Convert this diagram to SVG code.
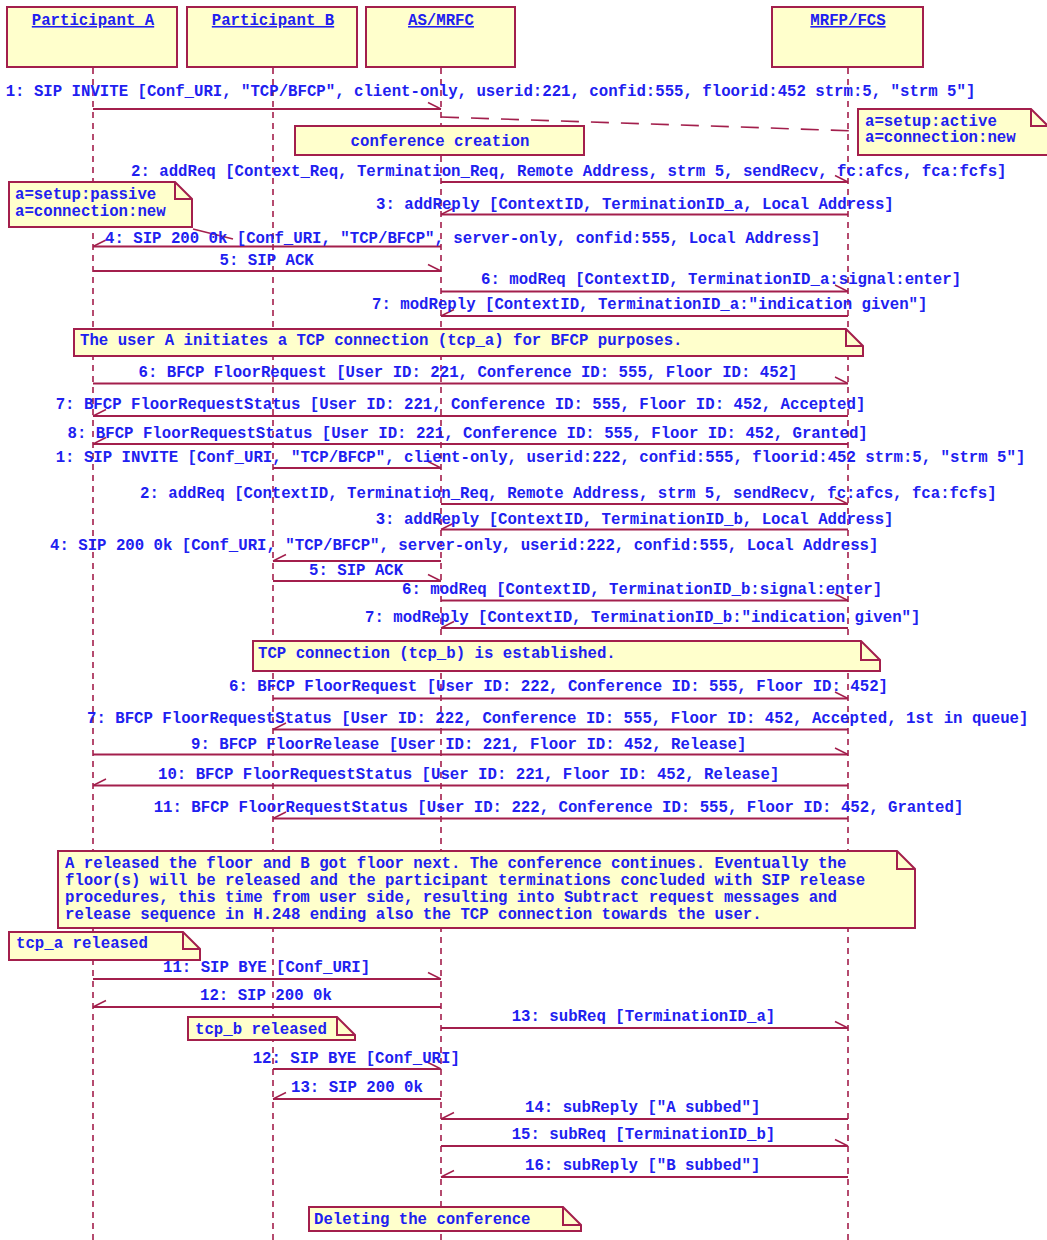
<svg xmlns="http://www.w3.org/2000/svg" width="1047" height="1240" viewBox="0 0 1047 1240">
<defs>
<style>
.ll{stroke:#a31f4c;stroke-width:1.6;stroke-dasharray:6,5;fill:none}
.m{stroke:#a31f4c;stroke-width:2;fill:none}
.bx{fill:#ffffcc;stroke:#a31f4c;stroke-width:2}
.fold{fill:none;stroke:#a31f4c;stroke-width:2}
.nc{stroke:#a31f4c;stroke-width:1.6;fill:none;stroke-dasharray:18,12}
text{font-family:"Liberation Mono","DejaVu Sans Mono",monospace;font-size:15.7px;font-weight:bold;fill:#2020f0}
.ttl{text-decoration:underline;text-anchor:middle}
.ctr{text-anchor:middle}
</style>
<marker id="hR" markerUnits="userSpaceOnUse" orient="0" markerWidth="20" markerHeight="20" refX="16" refY="10" viewBox="0 0 20 20"><path d="M3,3.5 L16,10" stroke="#a31f4c" stroke-width="1.5" fill="none"/></marker>
<marker id="hL" markerUnits="userSpaceOnUse" orient="0" markerWidth="20" markerHeight="20" refX="4" refY="10" viewBox="0 0 20 20"><path d="M17,3.5 L4,10" stroke="#a31f4c" stroke-width="1.5" fill="none"/></marker>
</defs>
<rect width="1047" height="1240" fill="#ffffff"/>

<g id="lifelines">
<line class="ll" x1="93" y1="68" x2="93" y2="1240"/>
<line class="ll" x1="273" y1="68" x2="273" y2="1240"/>
<line class="ll" x1="441" y1="68" x2="441" y2="1240"/>
<line class="ll" x1="848" y1="68" x2="848" y2="1240"/>
</g>

<g id="participant-a"><rect class="bx" x="7" y="7" width="170" height="60"/><text class="ttl" x="93" y="25">Participant A</text></g>
<g id="participant-b"><rect class="bx" x="187" y="7" width="170" height="60"/><text class="ttl" x="273" y="25">Participant B</text></g>
<g id="as-mrfc"><rect class="bx" x="366" y="7" width="149" height="60"/><text class="ttl" x="441" y="25">AS/MRFC</text></g>
<g id="mrfp-fcs"><rect class="bx" x="772" y="7" width="151" height="60"/><text class="ttl" x="848" y="25">MRFP/FCS</text></g>

<g id="note-conference-creation"><rect class="bx" x="295" y="126" width="289" height="29"/><text class="ctr" x="440" y="146">conference creation</text></g>

<g id="note-active"><path class="bx" d="M858,109 H1031 L1048,126 V155 H858 Z"/><path class="fold" d="M1031,109 V126 H1048"/><text x="865" y="126">a=setup:active</text><text x="865" y="142">a=connection:new</text></g>

<g id="note-passive"><path class="bx" d="M9,182 H175 L192,199 V227 H9 Z"/><path class="fold" d="M175,182 V199 H192"/><text x="15" y="198.5">a=setup:passive</text><text x="15" y="216">a=connection:new</text></g>

<g id="note-user-a-tcp"><path class="bx" d="M74,329 H846 L863,346 V356 H74 Z"/><path class="fold" d="M846,329 V346 H863"/><text x="80" y="345">The user A initiates a TCP connection (tcp_a) for BFCP purposes.</text></g>

<g id="note-tcp-b"><path class="bx" d="M253,641 H861 L880,660 V671 H253 Z"/><path class="fold" d="M861,641 V660 H880"/><text x="258" y="658">TCP connection (tcp_b) is established.</text></g>

<g id="note-release"><path class="bx" d="M58,851 H897 L915,869 V928 H58 Z"/><path class="fold" d="M897,851 V869 H915"/>
<text x="65" y="867.5">A released the floor and B got floor next. The conference continues. Eventually the</text>
<text x="65" y="884.5">floor(s) will be released and the participant terminations concluded with SIP release</text>
<text x="65" y="901.5">procedures, this time from user side, resulting into Subtract request messages and</text>
<text x="65" y="919">release sequence in H.248 ending also the TCP connection towards the user.</text></g>

<g id="note-tcp-a-released"><path class="bx" d="M9,932 H183 L200,949 V960 H9 Z"/><path class="fold" d="M183,932 V949 H200"/><text x="16" y="947.5">tcp_a released</text></g>

<g id="note-tcp-b-released"><path class="bx" d="M188,1017 H337 L355,1035 V1040 H188 Z"/><path class="fold" d="M337,1017 V1035 H355"/><text x="195" y="1033.5">tcp_b released</text></g>

<g id="note-deleting"><path class="bx" d="M309,1207 H563 L581,1225 V1231 H309 Z"/><path class="fold" d="M563,1207 V1225 H581"/><text x="314" y="1223.5">Deleting the conference</text></g>

<g id="connectors">
<line class="nc" x1="441" y1="117" x2="858" y2="131"/>
<line class="m" style="stroke-width:1.6" x1="193" y1="229" x2="233" y2="239"/>

<line class="m" x1="93" y1="109" x2="441" y2="109" marker-end="url(#hR)"/>
<line class="m" x1="441" y1="182" x2="848" y2="182" marker-end="url(#hR)"/>
<line class="m" x1="848" y1="214.5" x2="441" y2="214.5" marker-end="url(#hL)"/>
<line class="m" x1="441" y1="246.5" x2="93" y2="246.5" marker-end="url(#hL)"/>
<line class="m" x1="93" y1="271" x2="441" y2="271" marker-end="url(#hR)"/>
<line class="m" x1="441" y1="291.5" x2="848" y2="291.5" marker-end="url(#hR)"/>
<line class="m" x1="848" y1="316" x2="441" y2="316" marker-end="url(#hL)"/>
<line class="m" x1="93" y1="383.5" x2="848" y2="383.5" marker-end="url(#hR)"/>
<line class="m" x1="848" y1="416" x2="93" y2="416" marker-end="url(#hL)"/>
<line class="m" x1="848" y1="444" x2="93" y2="444" marker-end="url(#hL)"/>
<line class="m" x1="273" y1="468" x2="441" y2="468" marker-end="url(#hR)"/>
<line class="m" x1="441" y1="504" x2="848" y2="504" marker-end="url(#hR)"/>
<line class="m" x1="848" y1="529.5" x2="441" y2="529.5" marker-end="url(#hL)"/>
<line class="m" x1="441" y1="561" x2="273" y2="561" marker-end="url(#hL)"/>
<line class="m" x1="273" y1="581" x2="441" y2="581" marker-end="url(#hR)"/>
<line class="m" x1="441" y1="600.5" x2="848" y2="600.5" marker-end="url(#hR)"/>
<line class="m" x1="848" y1="628" x2="441" y2="628" marker-end="url(#hL)"/>
<line class="m" x1="273" y1="698.5" x2="848" y2="698.5" marker-end="url(#hR)"/>
<line class="m" x1="848" y1="729.5" x2="273" y2="729.5" marker-end="url(#hL)"/>
<line class="m" x1="93" y1="754.5" x2="848" y2="754.5" marker-end="url(#hR)"/>
<line class="m" x1="848" y1="785.5" x2="93" y2="785.5" marker-end="url(#hL)"/>
<line class="m" x1="848" y1="818.5" x2="273" y2="818.5" marker-end="url(#hL)"/>
<line class="m" x1="93" y1="979" x2="441" y2="979" marker-end="url(#hR)"/>
<line class="m" x1="441" y1="1007" x2="93" y2="1007" marker-end="url(#hL)"/>
<line class="m" x1="441" y1="1028" x2="848" y2="1028" marker-end="url(#hR)"/>
<line class="m" x1="273" y1="1069" x2="441" y2="1069" marker-end="url(#hR)"/>
<line class="m" x1="441" y1="1099" x2="273" y2="1099" marker-end="url(#hL)"/>
<line class="m" x1="848" y1="1119" x2="441" y2="1119" marker-end="url(#hL)"/>
<line class="m" x1="441" y1="1146" x2="848" y2="1146" marker-end="url(#hR)"/>
<line class="m" x1="848" y1="1177" x2="441" y2="1177" marker-end="url(#hL)"/>
</g>

<g id="labels">
<text x="5.7" y="96">1: SIP INVITE [Conf_URI, "TCP/BFCP", client-only, userid:221, confid:555, floorid:452 strm:5, "strm 5"]</text>
<text x="131" y="176">2: addReq [Context_Req, Termination_Req, Remote Address, strm 5, sendRecv, fc:afcs, fca:fcfs]</text>
<text x="376" y="208.5">3: addReply [ContextID, TerminationID_a, Local Address]</text>
<text x="105" y="243">4: SIP 200 0k [Conf_URI, "TCP/BFCP", server-only, confid:555, Local Address]</text>
<text x="219.6" y="265">5: SIP ACK</text>
<text x="481" y="284">6: modReq [ContextID, TerminationID_a:signal:enter]</text>
<text x="372" y="309">7: modReply [ContextID, TerminationID_a:"indication given"]</text>
<text x="138.5" y="376.5">6: BFCP FloorRequest [User ID: 221, Conference ID: 555, Floor ID: 452]</text>
<text x="55.7" y="409">7: BFCP FloorRequestStatus [User ID: 221, Conference ID: 555, Floor ID: 452, Accepted]</text>
<text x="67.6" y="437.5">8: BFCP FloorRequestStatus [User ID: 221, Conference ID: 555, Floor ID: 452, Granted]</text>
<text x="55.7" y="461.5">1: SIP INVITE [Conf_URI, "TCP/BFCP", client-only, userid:222, confid:555, floorid:452 strm:5, "strm 5"]</text>
<text x="140" y="498">2: addReq [ContextID, Termination_Req, Remote Address, strm 5, sendRecv, fc:afcs, fca:fcfs]</text>
<text x="375.7" y="523.5">3: addReply [ContextID, TerminationID_b, Local Address]</text>
<text x="50" y="549.5">4: SIP 200 0k [Conf_URI, "TCP/BFCP", server-only, userid:222, confid:555, Local Address]</text>
<text x="309" y="574.5">5: SIP ACK</text>
<text x="402" y="594">6: modReq [ContextID, TerminationID_b:signal:enter]</text>
<text x="365" y="621.5">7: modReply [ContextID, TerminationID_b:"indication given"]</text>
<text x="229" y="691">6: BFCP FloorRequest [User ID: 222, Conference ID: 555, Floor ID: 452]</text>
<text x="87" y="722.5">7: BFCP FloorRequestStatus [User ID: 222, Conference ID: 555, Floor ID: 452, Accepted, 1st in queue]</text>
<text x="191" y="748.5">9: BFCP FloorRelease [User ID: 221, Floor ID: 452, Release]</text>
<text x="158" y="779">10: BFCP FloorRequestStatus [User ID: 221, Floor ID: 452, Release]</text>
<text x="153.7" y="812">11: BFCP FloorRequestStatus [User ID: 222, Conference ID: 555, Floor ID: 452, Granted]</text>
<text x="163" y="972">11: SIP BYE [Conf_URI]</text>
<text x="200" y="1000">12: SIP 200 0k</text>
<text x="511.7" y="1021">13: subReq [TerminationID_a]</text>
<text x="252.7" y="1063">12: SIP BYE [Conf_URI]</text>
<text x="291" y="1092">13: SIP 200 0k</text>
<text x="525" y="1112">14: subReply ["A subbed"]</text>
<text x="511.7" y="1139">15: subReq [TerminationID_b]</text>
<text x="525" y="1170">16: subReply ["B subbed"]</text>
</g>
</svg>
